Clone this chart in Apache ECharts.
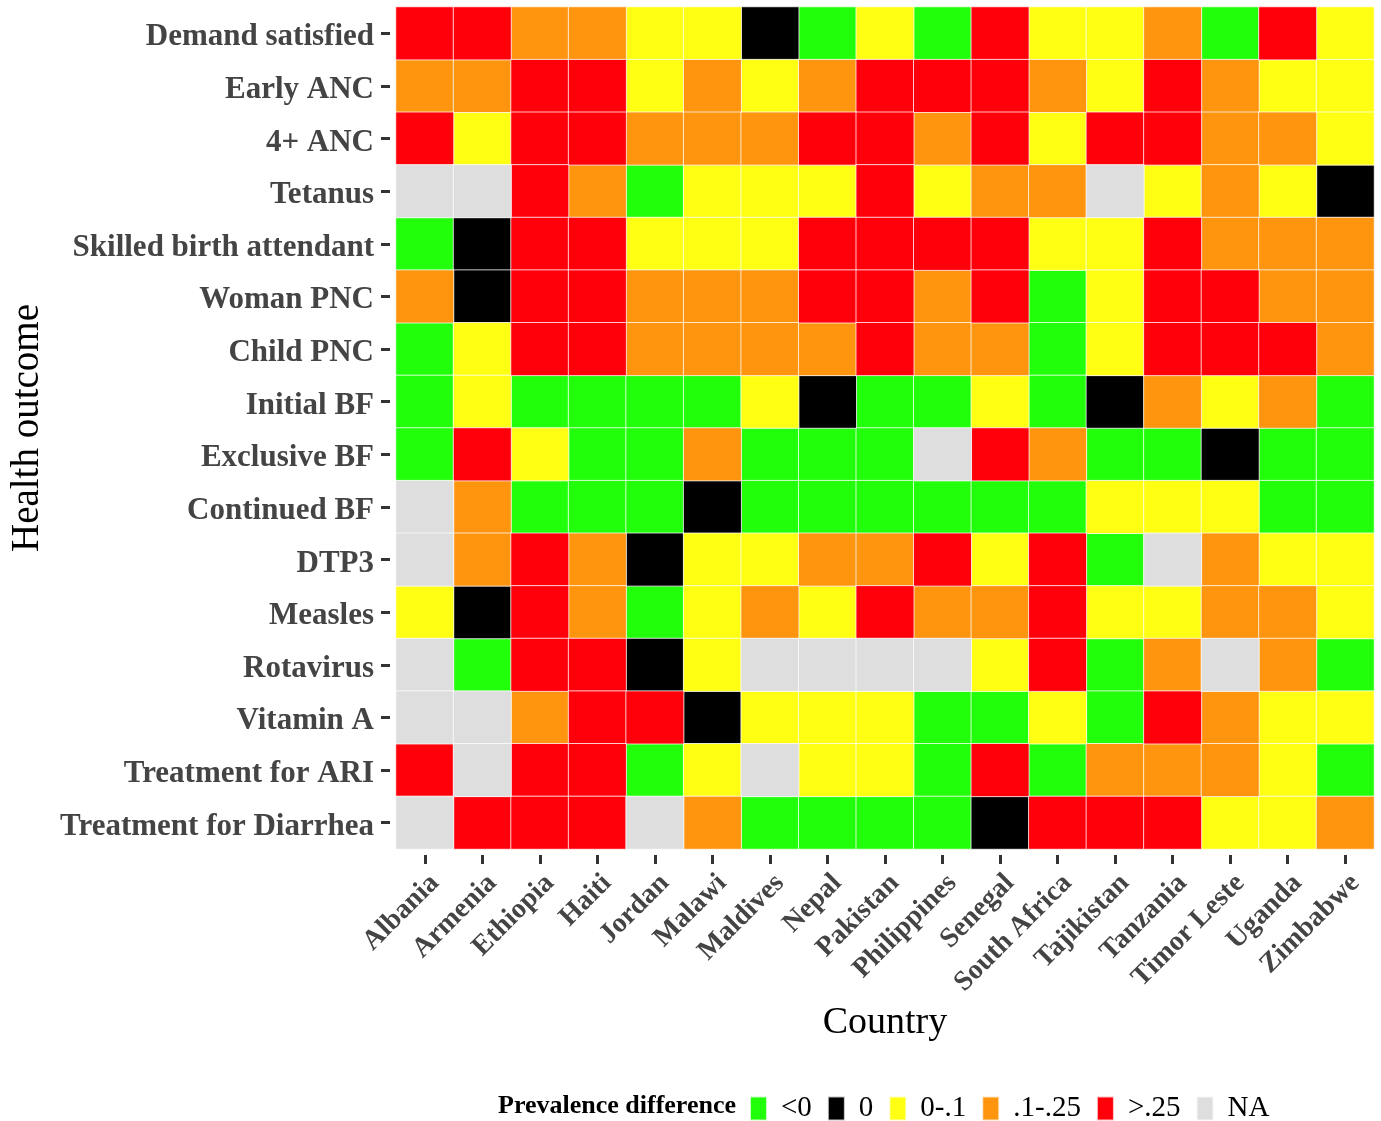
<!DOCTYPE html>
<html><head><meta charset="utf-8">
<script src="https://cdn.jsdelivr.net/npm/echarts@6/dist/echarts.min.js"></script>
<style>html,body{margin:0;padding:0;background:#fff}#c{width:1381px;height:1121px}</style>
</head><body><div id="c"></div><script>
const countries = ['Albania','Armenia','Ethiopia','Haiti','Jordan','Malawi','Maldives','Nepal','Pakistan','Philippines','Senegal','South Africa','Tajikistan','Tanzania','Timor Leste','Uganda','Zimbabwe'];
const outcomes = ['Demand satisfied','Early ANC','4+ ANC','Tetanus','Skilled birth attendant','Woman PNC','Child PNC','Initial BF','Exclusive BF','Continued BF','DTP3','Measles','Rotavirus','Vitamin A','Treatment for ARI','Treatment for Diarrhea'];
// category codes: G = <0, K = 0, Y = 0-.1, O = .1-.25, R = >.25, N = NA
const legendLabels = ['<0','0','0-.1','.1-.25','>.25','NA'];
const legendCodes = ['G','K','Y','O','R','N'];
const legendColors = ['#22FF0B','#000000','#FFFF14','#FF940F','#FF000A','#DEDEDE'];

const demandSatisfied   = ['R','R','O','O','Y','Y','K','G','Y','G','R','Y','Y','O','G','R','Y'];
const earlyANC          = ['O','O','R','R','Y','O','Y','O','R','R','R','O','Y','R','O','Y','Y'];
const anc4              = ['R','Y','R','R','O','O','O','R','R','O','R','Y','R','R','O','O','Y'];
const tetanus           = ['N','N','R','O','G','Y','Y','Y','R','Y','O','O','N','Y','O','Y','K'];
const skilledBirth      = ['G','K','R','R','Y','Y','Y','R','R','R','R','Y','Y','R','O','O','O'];
const womanPNC          = ['O','K','R','R','O','O','O','R','R','O','R','G','Y','R','R','O','O'];
const childPNC          = ['G','Y','R','R','O','O','O','O','R','O','O','G','Y','R','R','R','O'];
const initialBF         = ['G','Y','G','G','G','G','Y','K','G','G','Y','G','K','O','Y','O','G'];
const exclusiveBF       = ['G','R','Y','G','G','O','G','G','G','N','R','O','G','G','K','G','G'];
const continuedBF       = ['N','O','G','G','G','K','G','G','G','G','G','G','Y','Y','Y','G','G'];
const dtp3              = ['N','O','R','O','K','Y','Y','O','O','R','Y','R','G','N','O','Y','Y'];
const measles           = ['Y','K','R','O','G','Y','O','Y','R','O','O','R','Y','Y','O','O','Y'];
const rotavirus         = ['N','G','R','R','K','Y','N','N','N','N','Y','R','G','O','N','O','G'];
const vitaminA          = ['N','N','O','R','R','K','Y','Y','Y','G','G','Y','G','R','O','Y','Y'];
const treatmentARI      = ['R','N','R','R','G','Y','N','Y','Y','G','R','G','O','O','O','Y','G'];
const treatmentDiarrhea = ['N','R','R','R','N','O','G','G','G','G','K','R','R','R','Y','Y','O'];

const rows = [demandSatisfied, earlyANC, anc4, tetanus, skilledBirth, womanPNC, childPNC, initialBF,
  exclusiveBF, continuedBF, dtp3, measles, rotavirus, vitaminA, treatmentARI, treatmentDiarrhea];

const FONT = 'Liberation Serif';
const series = legendLabels.map((name, ci) => {
  const data = [];
  rows.forEach((row, yi) => row.forEach((code, xi) => {
    if (code === legendCodes[ci]) data.push([xi, yi, 1]);
  }));
  return {
    type: 'heatmap', name, data,
    itemStyle: { color: legendColors[ci], borderColor: 'rgba(255,255,255,0.75)', borderWidth: 1 },
    emphasis: { disabled: true },
    animation: false
  };
});

const chart = echarts.init(document.getElementById('c'));
chart.setOption({
  backgroundColor: '#ffffff',
  animation: false,
  grid: { left: 396, top: 7, width: 978, height: 842, containLabel: false, outerBoundsMode: 'none' },
  title: {
    text: 'Prevalence difference', left: 498, top: 1093, padding: 0,
    textStyle: { fontFamily: FONT, fontSize: 26, fontWeight: 'bold', color: '#000' }
  },
  legend: {
    data: legendLabels, left: 749, top: 1094, padding: 0, icon: 'rect',
    itemWidth: 17, itemHeight: 24, itemGap: 15, selectedMode: false,
    textStyle: { fontFamily: FONT, fontSize: 29, color: '#000', padding: [0, 0, 0, 9] }
  },
  xAxis: {
    type: 'category', data: countries, offset: 6,
    name: 'Country', nameLocation: 'middle', nameGap: 141,
    nameTextStyle: { fontFamily: FONT, fontSize: 38, color: '#000' },
    axisLine: { show: false },
    axisTick: { show: true, alignWithLabel: true, length: 9, lineStyle: { color: '#333', width: 3 } },
    axisLabel: { interval: 0, rotate: 45, align: 'right', verticalAlign: 'top', margin: 14,
      fontFamily: FONT, fontSize: 28, fontWeight: 'bold', color: '#444' },
    splitLine: { show: false }
  },
  yAxis: {
    type: 'category', data: outcomes, inverse: true, offset: 6,
    name: 'Health outcome', nameLocation: 'middle', nameGap: 343, nameRotate: 90,
    nameTextStyle: { fontFamily: FONT, fontSize: 39, color: '#000' },
    axisLine: { show: false },
    axisTick: { show: true, alignWithLabel: true, length: 9, lineStyle: { color: '#333', width: 3 } },
    axisLabel: { interval: 0, margin: 16,
      formatter: v => '{t|' + v + '}',
      rich: { t: { padding: [8, 0, 0, 0], fontFamily: FONT, fontSize: 31, fontWeight: 'bold', color: '#444' } },
      fontFamily: FONT, fontSize: 31, fontWeight: 'bold', color: '#444' },
    splitLine: { show: false }
  },
  series
});
</script></body></html>
